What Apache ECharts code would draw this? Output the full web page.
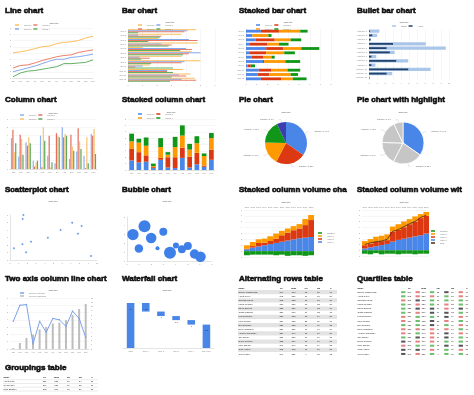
<!DOCTYPE html>
<html><head><meta charset="utf-8">
<script src="https://cdn.jsdelivr.net/npm/echarts@6.0.0/dist/echarts.min.js"></script>
<style>html,body{margin:0;padding:0;background:#fff;overflow:hidden}#c{width:474px;height:395px}</style>
</head><body><div id="c"></div>
<script>
// ---------------- data ----------------
const panelTitles = ['Line chart','Bar chart','Stacked bar chart','Bullet bar chart',
  'Column chart','Stacked column chart','Pie chart','Pie chart with highlight',
  'Scatterplot chart','Bubble chart','Stacked column volume chart','Stacked column volume with line',
  'Two axis column line chart','Waterfall chart','Alternating rows table','Quartiles table','Groupings table'];
const months = ['Jan','Feb','Mar','Apr','May','Jun','Jul','Aug','Sep','Oct','Nov','Dec'];
const lineS1 = [4.0,4.2,4.4,4.7,5.0,5.1,5.5,5.7,5.8,6.0,6.4,6.7];
const lineS2 = [1.6,2.0,2.1,2.4,2.8,3.1,3.4,3.6,3.7,4.1,4.3,4.5];
const lineS3 = [1.0,1.3,1.6,1.9,2.3,2.7,3.0,3.0,3.3,3.4,3.6,3.8];
const lineS4 = [0.2,0.8,1.1,1.2,1.4,1.6,1.8,2.3,2.3,2.4,2.5,2.9];
const itemCats = ['Item 1','Item 2','Item 3','Item 4','Item 5','Item 6','Item 7','Item 8','Item 9','Item 10','Item 11','Item 12'];
const barS1 = [4.7,3.7,2.1,4.8,1.0,4.4,3.7,5.0,1.5,3.8,4.3,4.6];
const barS2 = [4.1,0.7,4.2,2.3,4.0,5.0,0.8,3.9,1.0,2.7,3.5,3.7];
const barS3 = [3.9,2.3,4.8,3.0,4.4,4.2,1.5,3.7,0.5,2.7,4.0,4.7];
const barS4 = [0.7,2.2,1.4,2.8,3.6,3.8,0.9,1.6,3.1,3.1,3.0,2.9];
const sbBlue = [1.4,0.6,0.9,0.3,1.9,0.3,0.5,1.6,0.15,1.2,1.1,1.4];
const sbRed = [1.7,0.0,1.8,1.7,1.6,1.6,1.1,0.1,0.3,1.2,1.1,1.9];
const sbOrange = [2.0,1.5,1.5,1.1,1.7,1.7,0.8,2.0,0,1.5,2.0,1.1];
const sbGreen = [0.7,0.3,1.0,0.9,1.7,1.0,0.3,1.4,0.4,1.2,0.7,1.3];
const bulletCats = ['Category 1','Category 2','Category 3','Category 4','Category 5','Category 6','Category 7','Category 8','Category 9','Category 10','Category 11','Category 12'];
const bulletTarget = [1.3,1.0,0.2,7.1,9.6,3.2,0.9,4.9,0.8,7.7,2.9,0.1];
const bulletActual = [0.1,0.4,0.2,3.0,2.2,2.6,0.3,3.4,0.3,4.9,2.2,0.05];
const colBlue = [3.7,1.5,3.2,1.0,4.0,1.6,0.7,5.0,1.2,2.1,1.6,4.2];
const colRed = [4.7,4.1,2.8,0.3,0.2,4.0,4.3,3.8,4.1,4.9,0.1,4.0];
const colOrange = [2.0,3.6,3.8,0.8,5.0,0.2,4.0,4.2,2.7,3.3,3.8,4.8];
const colGreen = [3.1,1.7,3.1,1.0,3.4,0.8,3.8,4.0,2.2,2.4,0.7,1.8];
const scBlue = [1.5,1.2,1.3,0.3,1.6,0.4,0.3,1.9,0.4,0.9,0.5,1.6];
const scRed = [1.8,1.6,1.0,0.15,0.3,1.6,1.7,1.6,1.7,1.8,0.2,1.6];
const scOrange = [1.2,1.5,1.5,0.15,1.7,0.4,1.6,1.9,1.1,1.5,1.5,1.8];
const scGreen = [1.2,0.6,1.3,0.4,1.4,0.4,1.6,1.6,0.9,1.1,0.4,0.8];
const pieNames = ['Category 1','Category 2','Category 3','Category 4','Category 5'];
const pieValues = [34.7,22.9,17.8,17.5,7.1];
const scatX = [0.46,1.54,1.46,1.42,1.85,2.42,4.35,5.81,7.15,7.81,8.23,9.31];
const scatY = [1.56,6.0,5.47,2.09,1.02,2.44,2.98,4.0,4.98,3.51,4.53,0.53];
const bubX = [0.49,1.44,0.98,1.99,2.99,2.51,3.54,4.03,4.52,5.01,5.56,6.05];
const bubY = [3.0,3.95,1.41,2.62,3.31,1.44,0.95,1.75,1.33,1.71,0.8,0.49];
const bubSize = [32,36,18,28,16,4,36,9,16,16,22,28];
const volCats = ['2001','2002','2003','2004','2005','2006','2007','2008','2009','2010','2011','2012'];
const v1Blue = [0.3,0.6,0.8,1.0,1.2,1.4,1.6,1.8,2.0,2.2,2.3,2.4];
const v1Red = [0.1,0.26,0.58,0.44,0.52,0.73,1.1,1.36,1.56,1.65,2.13,2.89];
const v1Orange = [0.58,0.69,0.63,0.69,0.81,0.86,0.75,0.69,0.69,0.75,1.03,0.86];
const v1Green = [-0.7,-0.6,-0.6,-0.6,-0.6,-0.7,-0.6,-0.8,-0.7,-0.7,-0.8,-0.7];
const v2Blue = [0.3,0.5,0.7,0.9,1.1,1.5,1.8,2.0,2.2,2.4,2.6,2.9];
const v2Red = [0.58,0.68,0.77,0.69,0.66,1.74,1.73,2.0,2.33,2.6,2.99,3.1];
const v2Orange = [0.71,0.76,0.88,0.94,1.0,0.88,1.0,1.0,0.88,0.88,0.7,0.65];
const v2Green = [-0.6,-0.7,-0.5,-0.7,-0.6,-0.6,-0.7,-0.6,-0.6,-0.7,-0.6,-0.6];
const v2Line = [1.0,1.3,1.5,1.6,1.9,3.3,3.6,4.1,4.6,5.0,5.7,6.1];
const taLine = [3.8,6.0,6.1,0.7,3.8,2.3,4.2,4.0,3.1,5.2,4.2,1.6];
const taCols = [0.2,1.4,2.6,3.4,4.6,5.2,6.0,6.2,6.8,8.0,9.4,10.6];
const wfCats = ['Start','Step 1','Step 2','Step 3','Step 4','End Value'];
const wfStart = 10;
const wfSteps = [-1.9,-1.0,-0.9,-1.0];
const altHeader = ['Name','GP','Mins','GS','SB','G'];
const altNames = ['Builder Cashdollars','Albert Poole','Scott Spielberg','Laura Mechan','David Daniels','Justin Madison','Luis Gonzalez','Paul Conklin','Ben Johnson','Drew Wilkinson','Andrew Tunnicliffe','Jim Thorpe','Byron Costello','Mike Jacobs','Todd Hallow','Tyrell Farley'];
const altGP = [240,243,263,210,222,237,251,239,228,236,239,231,253,248,262,247];
const altMins = [518,530,532,530,520,560,558,552,552,551,546,520,569,540,562,521];
const altGS = [15,11,18,18,16,19,15,22,19,11,11,17,11,15,11,9];
const altSB = [28,27,27,23,23,22,19,26,24,17,16,10,24,19,15,15];
const altG = [17,26,27,27,16,15,20,18,23,18,20,15,21,22,20,12];
const qHeader = ['Name','GP','Mins','GB','SB','G'];
const qNames = altNames;
const qGP = altGP, qMins = altMins, qGS = altGS, qSB = altSB, qG = altG;
const gHeader = ['Name','GP','Mins','GB','SB','G'];
const gNames = ['Albert Farlo','Jet Theater','Ruth Stratton'];
const gGP = [251,247,262];
const gMins = [538,520,561];
const gGB = [12,11,18];
const gSB = [24,22,27];
const gG = [21,18,28];

// ---------------- build ----------------
const F = 'Liberation Sans';
const BLUE='#4a86e8', RED='#dc3912', ORANGE='#ff9900', GREEN='#109618', PURPLE='#3b3eac';
const grids=[], xAxes=[], yAxes=[], series=[], legends=[], graphics=[], titles=[];
const G=(l,t,w,h)=>grids.push({left:l,top:t,width:w,height:h})-1;
const X=a=>xAxes.push(a)-1, Y=a=>yAxes.push(a)-1;
const lab=e=>Object.assign({fontSize:2,color:'#888',fontFamily:F,margin:2},e||{});
const AXL={show:true,lineStyle:{color:'#c8c8c8',width:0.5}};
const SPL={show:true,lineStyle:{color:'#ededed',width:0.5}};
const cat=(gi,data,e)=>Object.assign({gridIndex:gi,type:'category',data,axisLabel:lab({interval:0}),axisTick:{show:false},axisLine:AXL,splitLine:{show:false}},e||{});
const val=(gi,min,max,interval,e)=>Object.assign({gridIndex:gi,type:'value',min,max,interval,axisLabel:lab(),axisTick:{show:false},axisLine:{show:false},splitLine:SPL},e||{});
const txt=(x,y,text,e)=>graphics.push({type:'text',x,y,silent:true,style:Object.assign({text,font:'2px '+F,fill:'#555',align:'center',verticalAlign:'middle'},e||{})});
const leg=(names,left,top,e)=>legends.push(Object.assign({data:names,left,top,padding:0,itemWidth:4,itemHeight:1.5,itemGap:2,icon:'rect',selectedMode:false,formatter:n=>n.split('|')[1],textStyle:{fontSize:2,color:'#777',fontFamily:F}},e||{}));
const bar=(name,xi,yi,data,color,e)=>series.push(Object.assign({type:'bar',name,xAxisIndex:xi,yAxisIndex:yi,data,itemStyle:{color},silent:true},e||{}));

// panel titles
const PX=[5,122,239,357], PY=[7,96,186,275,364];
panelTitles.forEach((t,i)=>titles.push({text:t,left:PX[i%4],top:PY[Math.floor(i/4)],padding:0,
  textStyle:{fontSize:8,fontWeight:'bold',color:'#111',fontFamily:F,textBorderColor:'#111',textBorderWidth:0.6,
    width:109,overflow:'truncate',ellipsis:''}}));

// 1 Line chart
{ const g=G(13,28,80,50), xi=X(cat(g,months,{boundaryGap:false})), yi=Y(val(g,0,8,1));
  [['L|Series 1',lineS1,'#fbbf5e'],['L|Series 2',lineS2,'#ec7f68'],['L|Series 3',lineS3,'#86a9ef'],['L|Series 4',lineS4,'#63b063']]
    .forEach(([n,d,c])=>series.push({type:'line',name:n,xAxisIndex:xi,yAxisIndex:yi,data:d,symbol:'none',lineStyle:{width:1,color:c},itemStyle:{color:c},silent:true}));
  txt(54,23,'Chart Title'); leg(['L|Series 1','L|Series 2','L|Series 3','L|Series 4'],15,24,{width:42}); }

// 2 Bar chart
{ const g=G(128,29,87,53), xi=X(val(g,0,6,1)), yi=Y(cat(g,itemCats,{inverse:true}));
  [['B|Series 1',barS1,'#f9be5a'],['B|Series 2',barS2,'#82a9ee'],['B|Series 3',barS3,'#e67a66'],['B|Series 4',barS4,'#62ae62']]
    .forEach(([n,d,c])=>bar(n,xi,yi,d,c,{barGap:'0%',barCategoryGap:'12%'}));
  txt(170,22,'Chart Title'); leg(['B|Series 1','B|Series 2','B|Series 3','B|Series 4'],138,24,{width:42}); }

// 3 Stacked bar
{ const g=G(246,29,85,52), xi=X(val(g,0,8,1)), yi=Y(cat(g,itemCats,{inverse:true}));
  [['S|Series 1',sbBlue,BLUE],['S|Series 2',sbRed,RED],['S|Series 3',sbOrange,ORANGE],['S|Series 4',sbGreen,GREEN]]
    .forEach(([n,d,c])=>bar(n,xi,yi,d,c,{stack:'sb',barCategoryGap:'35%'}));
  txt(288,22,'Chart Title'); leg(['S|Series 1','S|Series 2','S|Series 3','S|Series 4'],256,24,{width:42}); }

// 4 Bullet bar
{ const g=G(369,29,80,51), xi=X(val(g,0,10,1)), yi=Y(cat(g,bulletCats,{inverse:true,axisLine:{show:false}}));
  const yi2=Y(cat(g,bulletCats,{inverse:true,show:false}));
  bar('U|Target',xi,yi,bulletTarget,'#aac6e8',{barWidth:3.2});
  bar('U|Actual',xi,yi2,bulletActual,'#22416b',{barWidth:1.8});
  txt(404,22,'Chart Title'); leg(['U|Target','U|Actual'],392,25); }

// 5 Column chart
{ const g=G(10,119,87,50), xi=X(cat(g,months)), yi=Y(val(g,0,6,1));
  [['C|Series 1',colBlue,'#8fb0ee'],['C|Series 2',colRed,'#e3705e'],['C|Series 3',colOrange,'#f9c46e'],['C|Series 4',colGreen,'#5fa95f']]
    .forEach(([n,d,c])=>bar(n,xi,yi,d,c,{barGap:'15%',barCategoryGap:'25%'}));
  txt(53,113,'Chart Title'); leg(['C|Series 1','C|Series 2','C|Series 3','C|Series 4'],20,114,{width:42}); }

// 6 Stacked column
{ const g=G(128,119,87,51), xi=X(cat(g,months)), yi=Y(val(g,0,8,1));
  [['K|Series 1',scBlue,BLUE],['K|Series 2',scRed,RED],['K|Series 3',scOrange,ORANGE],['K|Series 4',scGreen,GREEN]]
    .forEach(([n,d,c])=>bar(n,xi,yi,d,c,{stack:'sc',barCategoryGap:'35%'}));
  txt(171,112,'Chart Title'); leg(['K|Series 1','K|Series 2','K|Series 3','K|Series 4'],138,113,{width:42}); }

// 7/8 Pies
const pieColors=[BLUE,RED,ORANGE,GREEN,PURPLE];
const pieLabel={fontSize:2,color:'#666',fontFamily:F,formatter:'{b}: {c}'};
const pieLine={length:3,length2:2,lineStyle:{width:0.3,color:'#aaa'}};
series.push({type:'pie',center:[286,143],radius:21,startAngle:90,silent:true,label:pieLabel,labelLine:pieLine,
  data:pieNames.map((n,i)=>({name:n,value:pieValues[i],itemStyle:{color:pieColors[i]}}))});
series.push({type:'pie',center:[403,143],radius:21,startAngle:90,silent:true,label:pieLabel,labelLine:pieLine,
  data:pieNames.map((n,i)=>({name:n,value:pieValues[i],itemStyle:{color:i===0?BLUE:'#c6c6c6',borderColor:'#fff',borderWidth:0.8}}))});
txt(286,112,'Chart Title'); txt(403,112,'Chart Title');

// 9 Scatter
{ const g=G(10,215,87,45), xi=X(val(g,0,10,1,{splitLine:{show:false},axisLine:AXL})), yi=Y(val(g,0,6,1,{splitLine:{show:false},axisLine:AXL}));
  series.push({type:'scatter',xAxisIndex:xi,yAxisIndex:yi,symbol:'diamond',symbolSize:2.5,itemStyle:{color:BLUE},silent:true,
    data:scatX.map((x,i)=>[x,scatY[i]])});
  txt(53,201,'Chart Title'); }

// 10 Bubble
{ const g=G(127,217,85,44), xi=X(val(g,0,7,1,{splitLine:{show:false},axisLine:AXL})), yi=Y(val(g,0,5,1,{splitLine:{show:false},axisLine:AXL}));
  series.push({type:'scatter',xAxisIndex:xi,yAxisIndex:yi,symbolSize:d=>2*Math.sqrt(d[2]),itemStyle:{color:'#3f7fe8',opacity:1},silent:true,
    data:bubX.map((x,i)=>[x,bubY[i],bubSize[i]])});
  txt(167,201,'Chart Title'); }

// 11 Stacked column volume
{ const g=G(244,210,70,47), xi=X(cat(g,volCats,{position:'top',axisLine:{show:false}})), yi=Y(val(g,-1,7,1));
  [['V|Value 1',v1Blue,BLUE],['V|Value 2',v1Red,RED],['V|Value 3',v1Orange,ORANGE],['V|Negative',v1Green,GREEN]]
    .forEach(([n,d,c])=>bar(n,xi,yi,d,c,{stack:'v1',barCategoryGap:'0%'}));
  txt(286,202,'Chart Title'); leg(['V|Negative','V|Value 3','V|Value 2','V|Value 1'],318,232,{orient:'vertical',itemGap:1}); }

// 12 Stacked column volume with line
{ const g=G(362,210,67,46), xi=X(cat(g,volCats,{position:'top',axisLine:{show:false}})), yi=Y(val(g,-1,7,1));
  [['W|Value 1',v2Blue,BLUE],['W|Value 2',v2Red,RED],['W|Value 3',v2Orange,ORANGE],['W|Negative',v2Green,GREEN]]
    .forEach(([n,d,c])=>bar(n,xi,yi,d,c,{stack:'v2',barCategoryGap:'0%'}));
  series.push({type:'line',name:'W|Total',xAxisIndex:xi,yAxisIndex:yi,data:v2Line,symbol:'none',lineStyle:{width:0.8,color:'#4a2a12'},itemStyle:{color:'#4a2a12'},silent:true});
  txt(404,202,'Chart Title'); leg(['W|Negative','W|Value 3','W|Value 2','W|Value 1','W|Total'],431,230,{orient:'vertical',itemGap:1}); }

// 13 Two axis column line
{ const g=G(10,298,79,51), xi=X(cat(g,months)), yl=Y(val(g,0,7,1)), yr=Y(val(g,0,12,1,{position:'right',splitLine:{show:false}}));
  bar('T|Series 2 (right axis)',xi,yr,taCols,'#bdbdbd',{barWidth:2});
  series.push({type:'line',name:'T|Series 1 (left axis)',xAxisIndex:xi,yAxisIndex:yl,data:taLine,symbol:'circle',symbolSize:1.5,lineStyle:{width:1,color:'#7ea2e8'},itemStyle:{color:'#7ea2e8'},silent:true});
  txt(53,290,'Chart Title'); leg(['T|Series 1 (left axis)','T|Series 2 (right axis)'],20,292,{orient:'vertical',itemGap:1}); }

// 14 Waterfall
{ const g=G(123,303,91,45), xi=X(cat(g,wfCats)), yi=Y(val(g,0,10,1,{show:false,splitLine:{show:false}}));
  const base=[0], hgt=[wfStart], labs=[String(wfStart)]; let run=wfStart;
  wfSteps.forEach(d=>{const n=run+d; base.push(Math.min(run,n)); hgt.push(Math.abs(d)); labs.push(String(d)); run=n;});
  base.push(0); hgt.push(+run.toFixed(2)); labs.push(run.toFixed(1));
  bar('base',xi,yi,base,'transparent',{stack:'wf',barWidth:'50%'});
  bar('wf',xi,yi,hgt,BLUE,{stack:'wf',barWidth:'50%',label:{show:true,position:'insideTop',fontSize:2,color:'#223',formatter:p=>labs[p.dataIndex]}});
  txt(167,290,'Chart Title'); }

// tables
function addTable(gi, header, cols, opt){
  const nameSpan = opt.nameSpan, nRows = cols[0].length + 1;
  const xCats = Array.from({length:nameSpan+header.length-1},(_,i)=>'c'+i);
  const yCats = Array.from({length:nRows},(_,i)=>'r'+i);
  const xi=X({gridIndex:gi,type:'category',data:xCats,show:false}), yi=Y({gridIndex:gi,type:'category',data:yCats,inverse:true,show:false});
  const cells=[];
  header.forEach((h,c)=>cells.push({x:c===0?0:c+nameSpan-1,y:0,text:h,col:c}));
  cols.forEach((arr,c)=>arr.forEach((v,r)=>cells.push({x:c===0?0:c+nameSpan-1,y:r+1,text:String(v),col:c,v})));
  series.push({type:'custom',xAxisIndex:xi,yAxisIndex:yi,silent:true,data:cells.map(c=>[c.x,c.y]),
    renderItem:(params,api)=>{
      const c=cells[params.dataIndex]; const p=api.coord([c.x,c.y]); const s=api.size([1,1]); const cs=params.coordSys;
      const top=p[1]-s[1]/2, ch=[];
      if(c.x===0){ const bg=opt.rowBg(c.y); if(bg) ch.push({type:'rect',shape:{x:cs.x,y:top,width:cs.width,height:s[1]},style:{fill:bg}});
        if(opt.lines) ch.push({type:'line',shape:{x1:cs.x,y1:top+s[1],x2:cs.x+cs.width,y2:top+s[1]},style:{stroke:'#ccc',lineWidth:0.4}}); }
      if(opt.decor && c.y>0 && c.col>0) opt.decor(c,p,s,ch);
      ch.push({type:'text',style:{x:c.x===0?p[0]-s[0]/2+0.5:p[0]+(opt.numShift||0),y:p[1],text:c.text,align:c.x===0?'left':'center',verticalAlign:'middle',
        font:(c.y===0?'bold ':'')+(opt.fs||2.2)+'px '+F,fill:'#222'}});
      return {type:'group',children:ch};
    }});
}
{ const g=G(238,286,99,70);
  addTable(g,altHeader,[altNames,altGP,altMins,altGS,altSB,altG],{nameSpan:3,rowBg:r=>r===0?null:(r%2===1?'#e3e3e3':null),lines:false}); }
{ const g=G(357,286,115,70);
  addTable(g,qHeader,[qNames,qGP,qMins,qGS,qSB,qG],{nameSpan:3,rowBg:()=>null,numShift:2,
    decor:(c,p,s,ch)=>{ const col=(c.v%3===0)?'#6bbf6b':(c.v%3===1?'#555':'#e88080');
      ch.push({type:'rect',shape:{x:p[0]-s[0]/2+1,y:p[1]-1,width:s[0]*0.3,height:2},style:{fill:col}}); }}); }
{ const g=G(3,376,95,15);
  addTable(g,gHeader,[gNames,gGP,gMins,gGB,gSB,gG],{nameSpan:3,rowBg:()=>null,lines:true}); }

const chart = echarts.init(document.getElementById('c'), null, {renderer:'canvas'});
chart.setOption({animation:false,backgroundColor:'#fff',title:titles,grid:grids,xAxis:xAxes,yAxis:yAxes,legend:legends,series,graphic:graphics});
</script></body></html>
